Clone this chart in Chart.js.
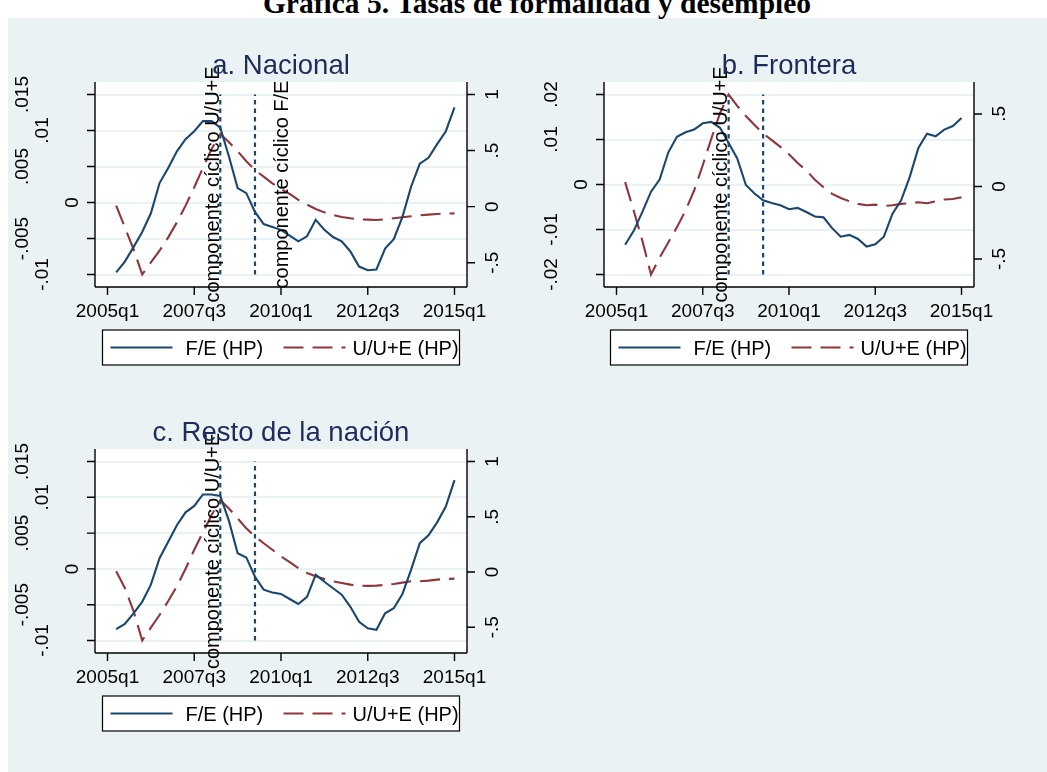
<!DOCTYPE html>
<html><head><meta charset="utf-8">
<script src="https://cdn.jsdelivr.net/npm/chart.js@4.4.1/dist/chart.umd.min.js"></script>
<style>
html,body{margin:0;padding:0;background:#fff;}
body{width:1047px;height:772px;position:relative;overflow:hidden;}
#bg{position:absolute;left:8px;top:18px;right:0;bottom:0;background:#EAF2F3;}
#title{position:absolute;left:0;width:1074px;top:-12px;font:bold 29.5px "Liberation Serif","Times New Roman",serif;line-height:30px;text-align:center;color:#000;white-space:nowrap;}
canvas{position:absolute;}
</style></head><body>
<div id="bg"></div>
<div id="title">Gráfica 5. Tasas de formalidad y desempleo</div>
<canvas id="ca" width="523" height="380" style="left:0;top:0"></canvas>
<canvas id="cb" width="524" height="380" style="left:523px;top:0"></canvas>
<canvas id="cc" width="523" height="392" style="left:0;top:380px"></canvas>
<script>
// ---------- data ----------
const quarters = ['2005q2','2005q3','2005q4','2006q1','2006q2','2006q3','2006q4','2007q1','2007q2','2007q3',
  '2007q4','2008q1','2008q2','2008q3','2008q4','2009q1','2009q2','2009q3','2009q4','2010q1',
  '2010q2','2010q3','2010q4','2011q1','2011q2','2011q3','2011q4','2012q1','2012q2','2012q3',
  '2012q4','2013q1','2013q2','2013q3','2013q4','2014q1','2014q2','2014q3','2014q4','2015q1'];

const feNacional = [-0.0097,-0.0082,-0.0062,-0.0041,-0.0015,0.0027,0.0048,0.0071,0.0088,0.0099,
  0.0113,0.0113,0.0104,0.0064,0.0020,0.0013,-0.0013,-0.0030,-0.0034,-0.0038,
  -0.0046,-0.0054,-0.0047,-0.0024,-0.0038,-0.0048,-0.0054,-0.0068,-0.0089,-0.0094,
  -0.0093,-0.0064,-0.0051,-0.0020,0.0022,0.0054,0.0062,0.0081,0.0099,0.0132];
const uueNacional = [0.009,-0.185,-0.378,-0.605,-0.497,-0.393,-0.274,-0.140,0.009,0.173,
  0.345,0.515,0.649,0.574,0.494,0.405,0.327,0.268,0.208,0.158,
  0.113,0.060,0.018,-0.021,-0.051,-0.074,-0.092,-0.104,-0.113,-0.116,
  -0.119,-0.113,-0.104,-0.095,-0.086,-0.077,-0.071,-0.065,-0.062,-0.060];

const feFrontera = [-0.0134,-0.0103,-0.0061,-0.0016,0.0011,0.0071,0.0106,0.0116,0.0122,0.0136,
  0.0139,0.0126,0.0092,0.0058,-0.0001,-0.0020,-0.0035,-0.0041,-0.0046,-0.0055,
  -0.0052,-0.0061,-0.0071,-0.0073,-0.0097,-0.0116,-0.0112,-0.0121,-0.0138,-0.0133,
  -0.0116,-0.0065,-0.0035,0.0017,0.0081,0.0113,0.0107,0.0122,0.0130,0.0148];
const uueFrontera = [0.030,-0.167,-0.375,-0.607,-0.490,-0.387,-0.282,-0.167,-0.028,0.146,
  0.331,0.505,0.634,0.556,0.486,0.424,0.366,0.319,0.273,0.222,
  0.162,0.111,0.046,-0.005,-0.051,-0.079,-0.102,-0.120,-0.130,-0.125,
  -0.134,-0.130,-0.120,-0.116,-0.109,-0.116,-0.102,-0.090,-0.086,-0.074];

const feResto = [-0.0084,-0.0077,-0.0062,-0.0046,-0.0022,0.0015,0.0038,0.0061,0.0079,0.0088,
  0.0104,0.0104,0.0102,0.0067,0.0022,0.0016,-0.0011,-0.0029,-0.0033,-0.0035,
  -0.0042,-0.0049,-0.0039,-0.0008,-0.0018,-0.0027,-0.0036,-0.0053,-0.0074,-0.0083,
  -0.0085,-0.0062,-0.0055,-0.0035,-0.0001,0.0036,0.0047,0.0065,0.0087,0.0124];
const uueResto = [0.006,-0.144,-0.353,-0.620,-0.503,-0.389,-0.263,-0.129,0.030,0.201,
  0.359,0.515,0.650,0.575,0.485,0.395,0.320,0.260,0.201,0.141,
  0.090,0.036,-0.009,-0.039,-0.063,-0.084,-0.099,-0.114,-0.123,-0.126,
  -0.123,-0.117,-0.108,-0.096,-0.084,-0.084,-0.078,-0.069,-0.063,-0.060];

const seriesNames = ['F/E (HP)','U/U+E (HP)'];
const eventQuarters = ['2008q2','2009q2'];

const xTickLabels = ['2005q1','2007q3','2010q1','2012q3','2015q1'];
const yTicks15 = [-0.01,-0.005,0,0.005,0.01,0.015];
const yTickLabels15 = ['-.01','-.005','0','.005','.01','.015'];
const yTicks02 = [-0.02,-0.01,0,0.01,0.02];
const yTickLabels02 = ['-.02','-.01','0','.01','.02'];
const y2Ticks1 = [-0.5,0,0.5,1];
const y2TickLabels1 = ['-.5','0','.5','1'];
const y2Ticks05 = [-0.5,0,0.5];
const y2TickLabels05 = ['-.5','0','.5'];

const panelTitles = ['a. Nacional','b. Frontera','c. Resto de la nación'];
const noteUUE = {text:'componente cíclico U/U+E', at:'2008q1'};
const noteFE = {text:'componente cíclico F/E', at:'2010q1'};

// ---------- helpers ----------
const SANS = '"Liberation Sans", Arial, Helvetica, sans-serif';
const BLUE = '#1a476f', RED = '#90353b';
const M = 12.5; // Stata plot-region margin (px)
function qIndex(q){ return (parseInt(q.slice(0,4),10)-2005)*4 + (parseInt(q.slice(5),10)-1); }
function padRange(lo, hi, px){ const inner = px - 2*M; const d = (hi-lo)*M/inner; return [lo-d, hi+d]; }

const stataFrame = {
  id:'stataFrame',
  beforeDraw(chart){
    const a = chart.chartArea, c = chart.ctx;
    c.save(); c.fillStyle = '#fff';
    c.fillRect(a.left, a.top, a.right-a.left, a.bottom-a.top);
    c.restore();
  },
  afterDatasetsDraw(chart, args, o){
    const c = chart.ctx, xs = chart.scales.x, ys = chart.scales.y;
    const yMid = (ys.getPixelForValue(o.yLo) + ys.getPixelForValue(o.yHi))/2;
    c.save();
    c.font = '20px ' + SANS; c.fillStyle = '#000'; c.textAlign = 'center'; c.textBaseline = 'alphabetic';
    o.notes.forEach(n => {
      const x = xs.getPixelForValue(qIndex(n.at));
      c.save(); c.translate(x + 0.358*20, yMid); c.rotate(-Math.PI/2);
      c.fillText(n.text, 0, 0); c.restore();
    });
    c.restore();
  },
  afterDraw(chart, args, o){
    const a = chart.chartArea, c = chart.ctx;
    const xs = chart.scales.x, ys = chart.scales.y, y2 = chart.scales.y2;
    c.save();
    c.strokeStyle = '#000'; c.lineWidth = 1.4;
    c.beginPath();
    c.moveTo(a.left, a.top); c.lineTo(a.left, a.bottom);
    c.moveTo(a.right, a.top); c.lineTo(a.right, a.bottom);
    c.moveTo(a.left, a.bottom); c.lineTo(a.right, a.bottom);
    const TL = 8;
    xs.ticks.forEach(t => { const x = xs.getPixelForValue(t.value); c.moveTo(x, a.bottom); c.lineTo(x, a.bottom+TL); });
    ys.ticks.forEach(t => { const y = ys.getPixelForValue(t.value); c.moveTo(a.left, y); c.lineTo(a.left-TL, y); });
    y2.ticks.forEach(t => { const y = y2.getPixelForValue(t.value); c.moveTo(a.right, y); c.lineTo(a.right+TL, y); });
    c.stroke();

    c.fillStyle = '#000';
    // x labels
    c.font = '19px ' + SANS; c.textAlign = 'center'; c.textBaseline = 'alphabetic';
    xs.ticks.forEach((t,i) => c.fillText(o.xLabels[i], xs.getPixelForValue(t.value), a.bottom + 30));
    // y labels (vertical, reading upwards)
    const fs = 19;
    c.font = fs + 'px ' + SANS;
    ys.ticks.forEach((t,i) => {
      const lab = o.yLabels[i];
      const w = c.measureText(lab.replace('-','')).width;
      const cx = a.left - (1.9*w + 4);
      c.save(); c.translate(cx + 0.358*fs, ys.getPixelForValue(t.value)); c.rotate(-Math.PI/2);
      c.fillText(lab, 0, 0); c.restore();
    });
    y2.ticks.forEach((t,i) => {
      const lab = o.y2Labels[i];
      const cx = a.right + 24.5;
      c.save(); c.translate(cx + 0.358*fs, y2.getPixelForValue(t.value)); c.rotate(-Math.PI/2);
      c.fillText(lab, 0, 0); c.restore();
    });
    // panel title
    const cxp = (a.left + a.right)/2;
    c.font = '27.5px ' + SANS; c.fillStyle = '#1e2c5a'; c.textAlign = 'center';
    c.fillText(o.title, cxp, a.top - 8.5);
    // legend
    const LW = 357, LH = 35, L = cxp - LW/2, T = a.bottom + 43;
    c.fillStyle = '#fff'; c.fillRect(L, T, LW, LH);
    c.strokeStyle = '#000'; c.lineWidth = 1.2; c.strokeRect(L, T, LW, LH);
    const ym = T + LH/2;
    const sampleX = [8, 181], textX = [83, 250];
    const items = chart.data.datasets.filter(d => d.inLegend);
    items.forEach((d, k) => {
      c.save();
      c.strokeStyle = d.borderColor; c.lineWidth = d.borderWidth;
      c.setLineDash(d.borderDash || []);
      c.beginPath(); c.moveTo(L + sampleX[k], ym); c.lineTo(L + sampleX[k] + 62, ym); c.stroke();
      c.restore();
      c.font = '20px ' + SANS; c.fillStyle = '#000'; c.textAlign = 'left'; c.textBaseline = 'alphabetic';
      c.fillText(d.label, L + textX[k], ym + 7);
    });
    c.restore();
  }
};

function makePanel(id, W, H, pad, title, fe, uue, yT, yL, y2T, y2L, notes){
  const areaW = W - pad.left - pad.right, areaH = H - pad.top - pad.bottom;
  const xr = padRange(qIndex(xTickLabels[0]), qIndex(xTickLabels[xTickLabels.length-1]), areaW);
  const yLo = Math.min(yT[0], ...fe), yHi = Math.max(yT[yT.length-1], ...fe);
  const yr = padRange(yLo, yHi, areaH);
  const y2Lo = Math.min(y2T[0], ...uue), y2Hi = Math.max(y2T[y2T.length-1], ...uue);
  const y2r = padRange(y2Lo, y2Hi, areaH);
  const datasets = [
    {label:seriesNames[0], data:quarters.map((q,i)=>({x:qIndex(q), y:fe[i]})), borderColor:BLUE, borderWidth:2.1,
     yAxisID:'y', pointRadius:0, tension:0, inLegend:true, order:1},
    {label:seriesNames[1], data:quarters.map((q,i)=>({x:qIndex(q), y:uue[i]})), borderColor:RED, borderWidth:2.1,
     borderDash:[20,9], yAxisID:'y2', pointRadius:0, tension:0, inLegend:true, order:2}
  ];
  eventQuarters.forEach(e => datasets.push({label:'', data:[{x:qIndex(e), y:yLo},{x:qIndex(e), y:yHi}],
    borderColor:BLUE, borderWidth:2.2, borderDash:[4.5,4], yAxisID:'y', pointRadius:0, inLegend:false, order:3}));
  const hidden = {display:false};
  return new Chart(document.getElementById(id), {
    type:'line',
    data:{datasets},
    options:{
      responsive:false, animation:false, devicePixelRatio:1,
      layout:{padding:pad, autoPadding:false},
      plugins:{legend:hidden, title:hidden, tooltip:{enabled:false},
        stataFrame:{title, xLabels:xTickLabels, yLabels:yL, y2Labels:y2L, notes, yLo, yHi}},
      scales:{
        x:{type:'linear', min:xr[0], max:xr[1], ticks:{display:false}, grid:{display:false}, border:{display:false},
           afterBuildTicks:s=>{ s.ticks = xTickLabels.map(q=>({value:qIndex(q)})); }, afterFit:s=>{ s.height = 0; }},
        y:{type:'linear', position:'left', min:yr[0], max:yr[1], ticks:{display:false},
           grid:{color:'#EAF2F3', lineWidth:2, drawTicks:false}, border:{display:false},
           afterBuildTicks:s=>{ s.ticks = yT.map(v=>({value:v})); }, afterFit:s=>{ s.width = 0; }},
        y2:{type:'linear', position:'right', min:y2r[0], max:y2r[1], ticks:{display:false},
           grid:{display:false}, border:{display:false},
           afterBuildTicks:s=>{ s.ticks = y2T.map(v=>({value:v})); }, afterFit:s=>{ s.width = 0; }}
      }
    },
    plugins:[stataFrame]
  });
}

makePanel('ca', 523, 380, {left:95, top:82, right:56, bottom:93}, panelTitles[0], feNacional, uueNacional,
  yTicks15, yTickLabels15, y2Ticks1, y2TickLabels1, [noteUUE, noteFE]);
makePanel('cb', 524, 380, {left:81, top:82, right:73, bottom:93}, panelTitles[1], feFrontera, uueFrontera,
  yTicks02, yTickLabels02, y2Ticks05, y2TickLabels05, [noteUUE]);
makePanel('cc', 523, 392, {left:95, top:69, right:56, bottom:119}, panelTitles[2], feResto, uueResto,
  yTicks15, yTickLabels15, y2Ticks1, y2TickLabels1, [noteUUE]);
</script>
</body></html>
